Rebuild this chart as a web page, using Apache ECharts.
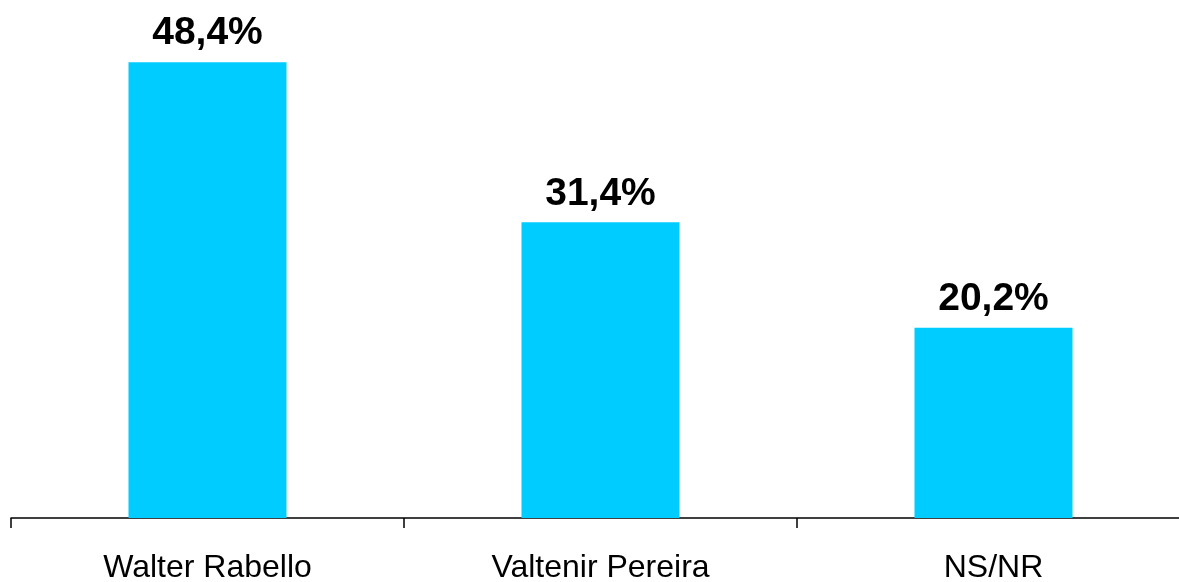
<!DOCTYPE html>
<html>
<head>
<meta charset="utf-8">
<script src="https://cdn.jsdelivr.net/npm/echarts@6/dist/echarts.min.js"></script>
<style>
  html, body { margin: 0; padding: 0; background: #fff; }
  #chart { width: 1179px; height: 582px; }
</style>
</head>
<body>
<div id="chart"></div>
<script>
const categories = ['Walter Rabello', 'Valtenir Pereira', 'NS/NR'];
const values = [48.4, 31.4, 20.2];

function pctLabel(v) {
  return v.toFixed(1).replace('.', ',') + '%';
}

const chart = echarts.init(document.getElementById('chart'));
chart.setOption({
  animation: false,
  grid: { left: 11, top: 0, right: -11, bottom: 64, containLabel: false, outerBoundsMode: 'none' },
  xAxis: {
    type: 'category',
    data: categories,
    axisLine: { lineStyle: { color: '#000', width: 1.5 } },
    axisTick: { show: true, length: 10, lineStyle: { color: '#000', width: 1.5 } },
    axisLabel: {
      color: '#000',
      fontFamily: 'Liberation Sans, Arial, sans-serif',
      fontSize: 32,
      margin: 34
    }
  },
  yAxis: {
    type: 'value',
    min: 0,
    max: 55,
    show: false,
    splitLine: { show: false }
  },
  series: [{
    type: 'bar',
    data: values,
    barWidth: 158,
    itemStyle: { color: '#00CCFF' },
    label: {
      show: true,
      position: 'top',
      distance: 9,
      color: '#000',
      fontFamily: 'Liberation Sans, Arial, sans-serif',
      fontWeight: 'bold',
      fontSize: 39,
      formatter: p => pctLabel(p.value)
    }
  }]
});
</script>
</body>
</html>
